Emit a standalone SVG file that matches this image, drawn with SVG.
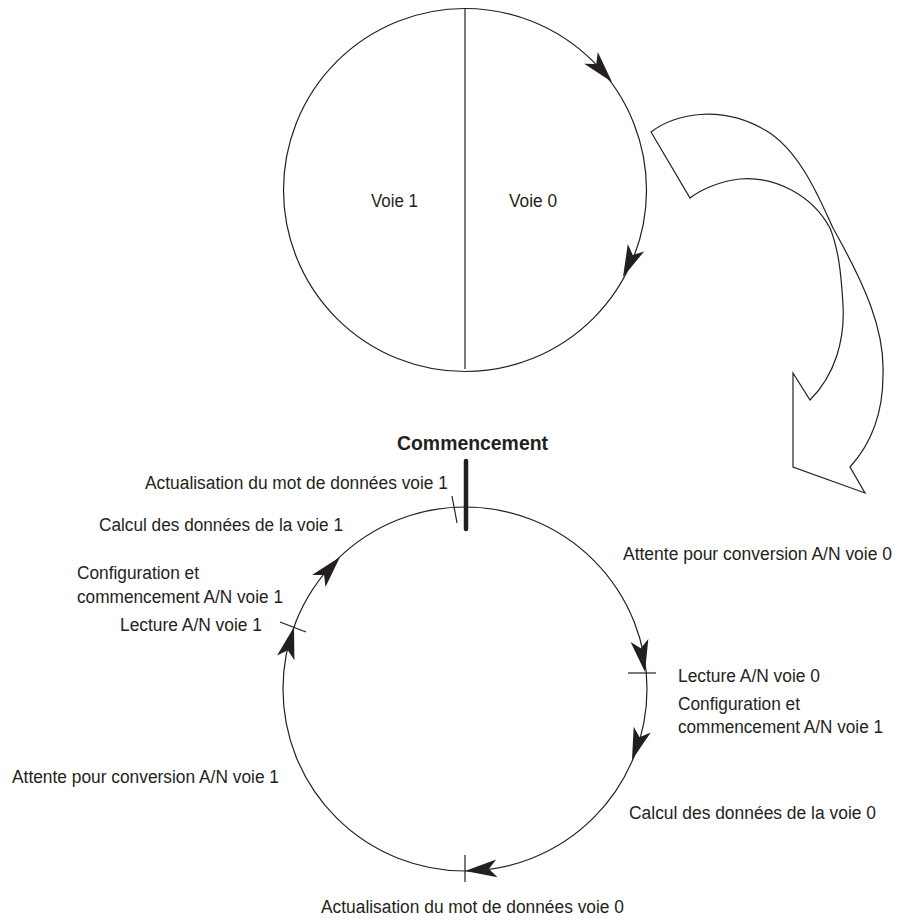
<svg xmlns="http://www.w3.org/2000/svg" xmlns:xlink="http://www.w3.org/1999/xlink" width="901" height="921" viewBox="0 0 901 921">
<style>
.ln{fill:none;stroke:#231f20;stroke-width:1.2}
.t{font-family:"Liberation Sans",Arial,sans-serif;font-size:18px;fill:#231f20}
.b{font-family:"Liberation Sans",Arial,sans-serif;font-size:20.5px;font-weight:bold;fill:#231f20}
.ah{fill:#231f20;stroke:none}
</style>
<defs>
<path id="ah" d="M0,0 L-32,-9 L-24,0 L-32,9 Z"/>
</defs>
<rect width="901" height="921" fill="#fff"/>

<g id="top-cycle">
<circle class="ln" cx="465" cy="190" r="181.5"/>
<line class="ln" x1="465" y1="9" x2="465" y2="369"/>
<text class="t" x="371" y="207" textLength="47" lengthAdjust="spacingAndGlyphs">Voie 1</text>
<text class="t" x="509" y="207" textLength="48" lengthAdjust="spacingAndGlyphs">Voie 0</text>
</g>

<g id="transition-arrow">
<path class="ln" d="M651,132 C675,114 720,104 765,130 C800,150 820,200 833,228 C865,285 885,330 883,375 C883,415 870,445 850,467 L865,493 L793,467 L793,373 L810,400 C835,375 845,340 843,305 C841,270 838,248 830,228 C812,195 775,176 740,179 C720,181 700,190 690,198 Z"/>
</g>

<g id="bottom-cycle">
<circle class="ln" cx="465" cy="689" r="182"/>
<line x1="466" y1="461" x2="466" y2="529" stroke="#231f20" stroke-width="4.5" stroke-linecap="round"/>
<line class="ln" x1="452" y1="496" x2="457" y2="523"/>
<line class="ln" x1="628" y1="673" x2="656" y2="673"/>
<line class="ln" x1="280" y1="622" x2="306" y2="632"/>
<line class="ln" x1="465" y1="855" x2="465" y2="882"/>
</g>

<g id="connectors">
<use xlink:href="#ah" class="ah" transform="translate(612,82) rotate(49)"/>
<use xlink:href="#ah" class="ah" transform="translate(623,277) rotate(114)"/>
<use xlink:href="#ah" class="ah" transform="translate(645,672) rotate(80)"/>
<use xlink:href="#ah" class="ah" transform="translate(632,760) rotate(108.6)"/>
<use xlink:href="#ah" class="ah" transform="translate(465,871) rotate(175.3)"/>
<use xlink:href="#ah" class="ah" transform="translate(294,627) rotate(-75)"/>
<use xlink:href="#ah" class="ah" transform="translate(340,557) rotate(-48.4)"/>
</g>

<g id="start-label"><text class="b" x="397" y="450" textLength="151" lengthAdjust="spacingAndGlyphs">Commencement</text></g>
<g id="label-update1"><text class="t" x="145" y="489" textLength="303" lengthAdjust="spacingAndGlyphs">Actualisation du mot de données voie 1</text></g>
<g id="label-calc1"><text class="t" x="99" y="531" textLength="244" lengthAdjust="spacingAndGlyphs">Calcul des données de la voie 1</text></g>
<g id="label-config1"><text class="t" x="77" y="579" textLength="122" lengthAdjust="spacingAndGlyphs">Configuration et</text><text class="t" x="77" y="603" textLength="206" lengthAdjust="spacingAndGlyphs">commencement A/N voie 1</text></g>
<g id="label-read1"><text class="t" x="120" y="631" textLength="142" lengthAdjust="spacingAndGlyphs">Lecture A/N voie 1</text></g>
<g id="label-wait1"><text class="t" x="12" y="783" textLength="267" lengthAdjust="spacingAndGlyphs">Attente pour conversion A/N voie 1</text></g>
<g id="label-update0"><text class="t" x="321" y="913" textLength="303" lengthAdjust="spacingAndGlyphs">Actualisation du mot de données voie 0</text></g>
<g id="label-wait0"><text class="t" x="623" y="560" textLength="269" lengthAdjust="spacingAndGlyphs">Attente pour conversion A/N voie 0</text></g>
<g id="label-read0"><text class="t" x="678" y="682" textLength="142" lengthAdjust="spacingAndGlyphs">Lecture A/N voie 0</text></g>
<g id="label-config0"><text class="t" x="678" y="710" textLength="122" lengthAdjust="spacingAndGlyphs">Configuration et</text><text class="t" x="678" y="733" textLength="205" lengthAdjust="spacingAndGlyphs">commencement A/N voie 1</text></g>
<g id="label-calc0"><text class="t" x="629" y="819" textLength="247" lengthAdjust="spacingAndGlyphs">Calcul des données de la voie 0</text></g>
</svg>
